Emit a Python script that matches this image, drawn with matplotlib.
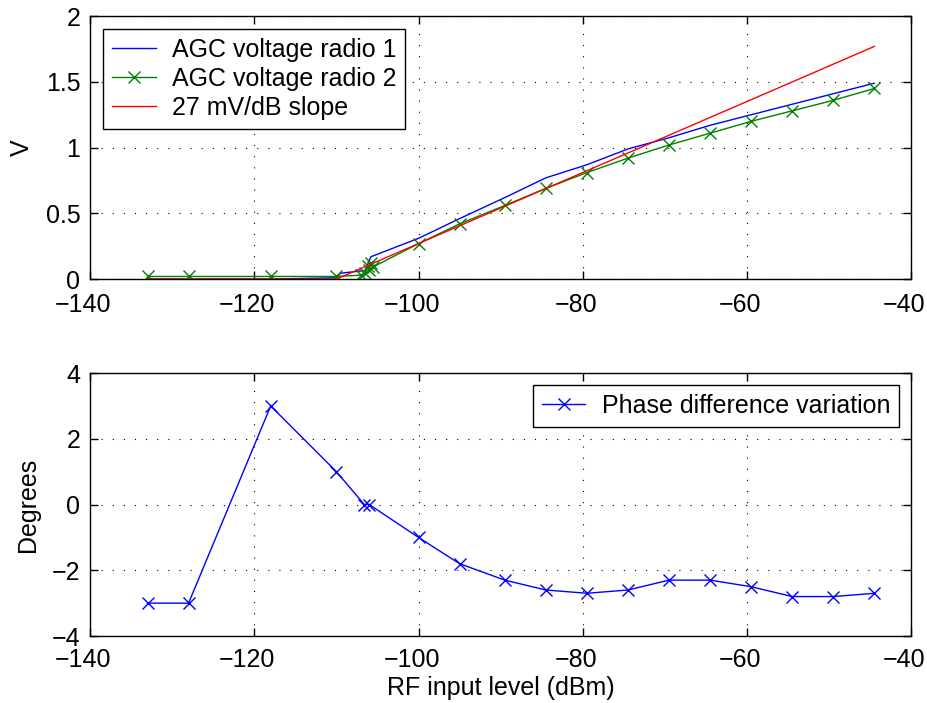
import numpy as np
import matplotlib
matplotlib.use("Agg")
import matplotlib.pyplot as plt
import matplotlib.transforms as mtransforms

plt.rcParams["font.family"] = ["Liberation Sans", "DejaVu Sans"]
plt.rcParams["font.size"] = 18

# AGC voltage, radio 1
x_r1 = [-133, -128, -118, -110, -109.5, -106.5, -106, -105.8, -100, -95, -89.5,
        -84.5, -79.5, -74.5, -69.5, -64.5, -59.5, -54.5, -49.5, -44.5]
v_r1 = [0, 0, 0, 0.01, 0.045, 0.065, 0.14, 0.17, 0.31, 0.46, 0.62,
        0.77, 0.87, 0.99, 1.075, 1.17, 1.25, 1.33, 1.41, 1.49]

# AGC voltage, radio 2
x_r2 = [-133, -128, -118, -110, -107, -106.5, -106.2, -106, -105.8, -105.6,
        -100, -95, -89.5, -84.5, -79.5, -74.5, -69.5, -64.5, -59.5, -54.5,
        -49.5, -44.5]
v_r2 = [0.02, 0.02, 0.02, 0.02, 0.03, 0.05, 0.1, 0.07, 0.12, 0.09,
        0.27, 0.42, 0.56, 0.69, 0.81, 0.92, 1.02, 1.11, 1.20, 1.28,
        1.36, 1.45]

# 27 mV/dB reference slope
x_slope = [-133, -110, -44.5]
v_slope = [0, 0, 1.77]

# phase difference variation
x_ph = [-133, -128, -118, -110, -106.6, -106, -100, -95, -89.5, -84.5,
        -79.5, -74.5, -69.5, -64.5, -59.5, -54.5, -49.5, -44.5]
ph = [-3, -3, 3, 1, 0, 0, -1, -1.8, -2.3, -2.6,
      -2.7, -2.6, -2.3, -2.3, -2.5, -2.8, -2.8, -2.7]

fig = plt.figure(figsize=(9.28, 7.03), dpi=100)
ax1 = fig.add_axes([0.097, 0.603, 0.885, 0.374])
ax2 = fig.add_axes([0.097, 0.0953, 0.885, 0.374])

ax1.plot(x_r1, v_r1, color="b", lw=1.0, label="AGC voltage radio 1")
ax1.plot(x_r2, v_r2, color=(0, 0.5, 0), lw=1.0, marker="x", ms=9,
         mew=1.0, label="AGC voltage radio 2")
ax1.plot(x_slope, v_slope, color="r", lw=1.0, label="27 mV/dB slope")
ax1.set_xlim(-140, -40)
ax1.set_ylim(0, 2)
ax1.set_yticks([0, 0.5, 1, 1.5, 2])
ax1.set_yticklabels(["0", "0.5", "1", "1.5", "2"])
ax1.set_ylabel("V")
ax1.yaxis.set_label_coords(-0.068, 0.5)

ax2.plot(x_ph, ph, color="b", lw=1.0, marker="x", ms=9, mew=1.0,
         label="Phase difference variation")
ax2.set_xlim(-140, -40)
ax2.set_ylim(-4, 4)
ax2.set_yticks([-4, -2, 0, 2, 4])
ax2.set_ylabel("Degrees")
ax2.yaxis.set_label_coords(-0.061, 0.5)
ax2.set_xlabel("RF input level (dBm)", labelpad=3)

for ax, dy in ((ax1, -3), (ax2, -1)):
    shift = mtransforms.ScaledTranslation(-7 / 100, dy / 100,
                                          fig.dpi_scale_trans)
    ax.set_xticks([-140, -120, -100, -80, -60, -40])
    ax.grid(True, color="k", linestyle=(0, (1, 9)), lw=0.8)
    ax.tick_params(direction="in", top=True, right=True, length=6, width=1)
    ax.tick_params(axis="x", pad=8)
    ax.tick_params(axis="y", pad=7)
    for lab in ax.get_xticklabels():
        lab.set_transform(lab.get_transform() + shift)
    for s in ax.spines.values():
        s.set_linewidth(1.0)

leg1 = ax1.legend(loc="upper left", bbox_to_anchor=(0.016, 0.95),
                  borderaxespad=0, fancybox=False, edgecolor="k",
                  framealpha=1, handlelength=1.75, handletextpad=0.65,
                  labelspacing=0.2, borderpad=0.35)
leg1.get_frame().set_linewidth(1.0)
leg2 = ax2.legend(loc="upper right", bbox_to_anchor=(0.985, 0.954),
                  borderaxespad=0, fancybox=False, edgecolor="k",
                  framealpha=1, handlelength=1.75, handletextpad=0.65,
                  borderpad=0.35)
leg2.get_frame().set_linewidth(1.0)

fig.savefig("out.png", dpi=100)
